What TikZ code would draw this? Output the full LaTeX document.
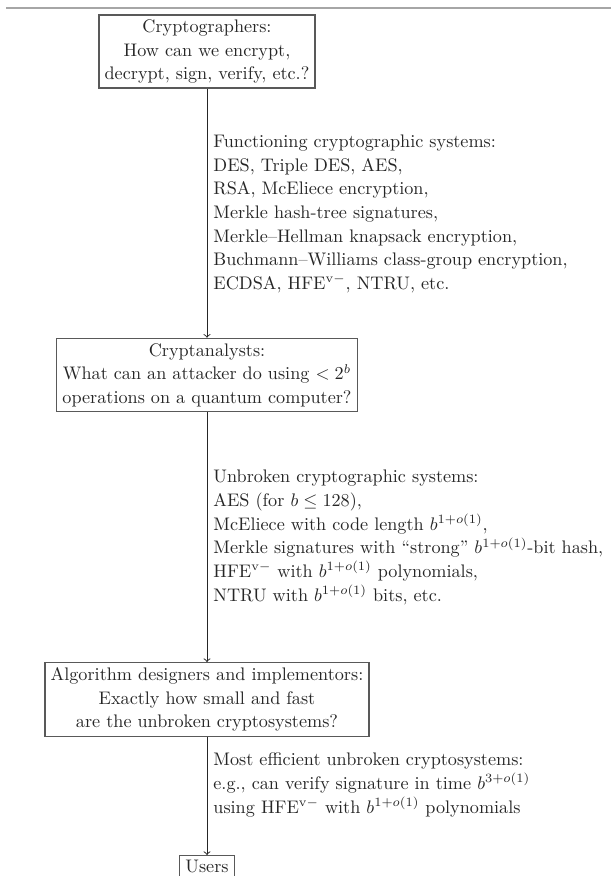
\documentclass[tikz,border=0pt]{standalone}
\usepackage{amsmath}
\begin{document}
\begin{tikzpicture}[x=0.55pt,y=-0.55pt,
  every node/.style={text=black!85},
  stagebox/.style={draw=black!65,line width=0.8pt,align=center,inner xsep=3.2pt,inner ysep=2.6pt,
    font=\fontsize{10}{13}\selectfont},
  flowlabel/.style={align=left,anchor=west,inner sep=3.33pt,font=\fontsize{10}{13}\selectfont},
  flow/.style={->,draw=black!85,line width=0.5pt}]
\useasboundingbox (0,0) rectangle (611,876);
% thin rule along the top
\draw[black!35,line width=0.6pt] (6,8) -- (611,8);

% stages
\node[stagebox] (crypt) at (207,51.5) {Cryptographers:\\How can we encrypt,\\decrypt, sign, verify, etc.?};
\node[stagebox] (anal) at (207,375) {Cryptanalysts:\\What can an attacker do using $<2^b$\\operations on a quantum computer?};
\node[stagebox] (impl) at (207,699.5) {Algorithm designers and implementors:\\Exactly how small and fast\\are the unbroken cryptosystems?};
\node[stagebox,anchor=north] (users) at (207,855) {Users};

% connectors
\draw[flow] (crypt) -- (anal);
\draw[flow] (anal) -- (impl);
\draw[flow] (impl) -- (users);

% what passes along each connector
\node[flowlabel] (lab1) at (207,214) {Functioning cryptographic systems:\\
DES, Triple DES, AES,\\
RSA, McEliece encryption,\\
Merkle hash-tree signatures,\\
Merkle--Hellman knapsack encryption,\\
Buchmann--Williams class-group encryption,\\
ECDSA, HFE$^{\mathrm{v}-}$, NTRU, etc.};
\node[flowlabel] (lab2) at (207,537.5) {Unbroken cryptographic systems:\\
AES (for $b\le 128$),\\
McEliece with code length $b^{1+o(1)}$,\\
Merkle signatures with ``strong'' $b^{1+o(1)}$-bit hash,\\
HFE$^{\mathrm{v}-}$ with $b^{1+o(1)}$ polynomials,\\
NTRU with $b^{1+o(1)}$ bits, etc.};
\node[flowlabel] (lab3) at (207,785) {Most efficient unbroken cryptosystems:\\
e.g., can verify signature in time $b^{3+o(1)}$\\
using HFE$^{\mathrm{v}-}$ with $b^{1+o(1)}$ polynomials};
\end{tikzpicture}
\end{document}
